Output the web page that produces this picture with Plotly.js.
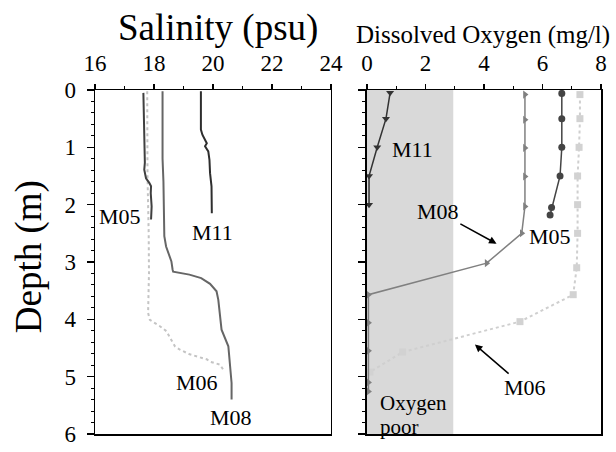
<!DOCTYPE html>
<html>
<head>
<meta charset="utf-8">
<script src="https://cdn.plot.ly/plotly-3.0.1.min.js"></script>
<style>
  html, body { margin: 0; padding: 0; background: #fff; }
  #chart { width: 616px; height: 452px; }
</style>
</head>
<body>
<div id="chart"></div>
<script>
// Salinity profiles (depth in m, salinity in psu)
const salM05Depth = [0.05, 0.69, 0.98, 1.27, 1.39, 1.54, 1.62, 1.68, 1.80, 2.03, 2.26];
const salM05 =      [17.64, 17.67, 17.69, 17.69, 17.67, 17.73, 17.84, 17.90, 17.89, 17.92, 17.90];

const salM11Depth = [0.02, 0.69, 0.78, 0.87, 0.93, 0.98, 1.07, 1.22, 1.45, 1.68, 2.15];
const salM11 =      [19.59, 19.59, 19.64, 19.73, 19.79, 19.73, 19.84, 19.88, 19.90, 19.95, 19.96];

const salM08Depth = [0.02, 1.20, 1.60, 2.13, 2.55, 2.73, 2.90, 2.99, 3.13, 3.17, 3.22, 3.28, 3.38, 3.51, 3.66, 4.01, 4.18, 4.47, 4.76, 5.11, 5.40];
const salM08 =      [18.29, 18.29, 18.32, 18.34, 18.35, 18.41, 18.54, 18.59, 18.63, 18.65, 19.20, 19.60, 19.90, 20.12, 20.18, 20.24, 20.29, 20.52, 20.58, 20.63, 20.63];

const salM06Depth = [0.02, 1.50, 2.50, 3.20, 3.89, 4.01, 4.12, 4.21, 4.30, 4.47, 4.53, 4.61, 4.70, 4.74, 4.79, 4.88];
const salM06 =      [17.77, 17.78, 17.82, 17.83, 17.80, 17.86, 18.20, 18.43, 18.52, 18.71, 18.88, 19.21, 19.80, 19.90, 20.24, 20.35];

// Dissolved oxygen profiles (depth in m, DO in mg/l)
const doM11Depth = [0.05, 0.50, 1.00, 1.50, 2.00];
const doM11 =      [0.79, 0.65, 0.35, 0.07, 0.07];

const doM08Depth = [0.08, 0.52, 1.01, 1.51, 2.03, 2.50, 3.02, 3.57, 4.06, 4.55, 5.10, 5.26];
const doM08 =      [5.40, 5.40, 5.40, 5.40, 5.40, 5.29, 4.09, 0.05, 0.05, 0.05, 0.05, 0.05];

const doM05Depth = [0.06, 0.50, 1.00, 1.50, 2.05, 2.18];
const doM05 =      [6.66, 6.66, 6.66, 6.60, 6.31, 6.26];

const doM06Depth = [0.08, 0.50, 1.00, 1.50, 2.00, 2.50, 3.10, 3.57, 4.04, 4.57, 4.92];
const doM06 =      [7.28, 7.28, 7.25, 7.20, 7.20, 7.20, 7.17, 7.05, 5.23, 1.22, 0.10];

// Oxygen-poor band upper limit (mg/l)
const oxygenPoorLimit = 2.95;

const serif = '"Liberation Serif", "Times New Roman", Times, serif';
const f = (size) => ({family: serif, size: size, color: '#000'});

const traces = [
  // salinity panel
  {x: salM06, y: salM06Depth, xaxis: 'x', yaxis: 'y', mode: 'lines',
   line: {color: '#c4c4c4', width: 2, dash: 'dot'}},
  {x: salM05, y: salM05Depth, xaxis: 'x', yaxis: 'y', mode: 'lines',
   line: {color: '#404040', width: 2}},
  {x: salM11, y: salM11Depth, xaxis: 'x', yaxis: 'y', mode: 'lines',
   line: {color: '#2e2e2e', width: 2}},
  {x: salM08, y: salM08Depth, xaxis: 'x', yaxis: 'y', mode: 'lines',
   line: {color: '#666666', width: 2}},
  // dissolved oxygen panel
  {x: doM06, y: doM06Depth, xaxis: 'x2', yaxis: 'y2', mode: 'lines+markers',
   line: {color: '#cfcfcf', width: 2, dash: 'dot'},
   marker: {symbol: 'square', size: 7, color: '#d2d2d2'}},
  {x: doM05, y: doM05Depth, xaxis: 'x2', yaxis: 'y2', mode: 'lines+markers',
   line: {color: '#444444', width: 1.5},
   marker: {symbol: 'circle', size: 7, color: '#444444'}},
  {x: doM08, y: doM08Depth, xaxis: 'x2', yaxis: 'y2', mode: 'lines+markers',
   line: {color: '#808080', width: 1.5},
   marker: {symbol: 'triangle-right', size: 7, color: '#808080'}},
  {x: doM11, y: doM11Depth, xaxis: 'x2', yaxis: 'y2', mode: 'lines+markers',
   line: {color: '#333333', width: 1.5},
   marker: {symbol: 'triangle-down', size: 7, color: '#333333'}}
];

const topAxis = {
  side: 'top', showline: true, linecolor: '#000', linewidth: 1.5, mirror: true,
  ticks: 'outside', ticklen: 5, tickwidth: 1.5, tickcolor: '#000',
  minor: {dtick: 1, ticks: 'outside', ticklen: 3, tickwidth: 1, tickcolor: '#000'},
  showgrid: false, zeroline: false,
  tickfont: f(23), ticklabelstandoff: 3
};
const insideTicks = {
  side: 'top', showline: false, showgrid: false, zeroline: false,
  ticks: 'inside', ticklen: 4, tickwidth: 1.5, tickcolor: '#000', showticklabels: false
};
const depthAxis = {
  range: [6, 0], dtick: 1, tick0: 0, showline: true, linecolor: '#000', linewidth: 1.5, mirror: true,
  ticks: 'outside', ticklen: 7, tickwidth: 1.5, tickcolor: '#000',
  minor: {dtick: 0.2, ticks: 'outside', ticklen: 3, tickwidth: 1, tickcolor: '#000'},
  showgrid: false, zeroline: false,
  tickfont: f(23)
};

const layout = {
  width: 616, height: 452,
  margin: {l: 95, r: 15, t: 90, b: 18},
  paper_bgcolor: '#fff', plot_bgcolor: '#fff',
  showlegend: false, hovermode: false,
  font: f(22),
  xaxis: Object.assign({}, topAxis, {domain: [0, 0.4664], range: [16, 24], dtick: 2, tick0: 16, anchor: 'y'}),
  xaxis2: Object.assign({}, topAxis, {domain: [0.5375, 1], range: [0, 8], dtick: 2, tick0: 0, anchor: 'y2'}),
  xaxis3: Object.assign({}, insideTicks, {overlaying: 'x', range: [16, 24], dtick: 2, tick0: 16, anchor: 'y'}),
  xaxis4: Object.assign({}, insideTicks, {overlaying: 'x2', range: [0, 8], dtick: 2, tick0: 0, anchor: 'y2'}),
  yaxis: Object.assign({}, depthAxis, {domain: [0, 1], anchor: 'x', ticklabelstandoff: 6}),
  yaxis2: Object.assign({}, depthAxis, {domain: [0, 1], anchor: 'x2', showticklabels: false}),
  shapes: [
    {type: 'rect', xref: 'x2', yref: 'y2', x0: 0, x1: oxygenPoorLimit, y0: 0, y1: 6,
     fillcolor: '#d9d9d9', line: {width: 0}, layer: 'below'}
  ],
  annotations: [
    {text: 'Salinity (psu)', xref: 'paper', yref: 'paper', x: 0.243, y: 1.18,
     showarrow: false, font: f(37), xanchor: 'center', yanchor: 'middle'},
    {text: 'Dissolved Oxygen (mg/l)', xref: 'paper', yref: 'paper', x: 0.767, y: 1.16,
     showarrow: false, font: f(25), xanchor: 'center', yanchor: 'middle'},
    {text: 'Depth (m)', xref: 'paper', yref: 'paper', x: -0.13, y: 0.5145, textangle: -90,
     showarrow: false, font: f(37), xanchor: 'center', yanchor: 'middle'},
    // salinity labels
    {text: 'M05', xref: 'x', yref: 'y', x: 16.85, y: 2.21, showarrow: false, font: f(22)},
    {text: 'M11', xref: 'x', yref: 'y', x: 19.97, y: 2.49, showarrow: false, font: f(22)},
    {text: 'M06', xref: 'x', yref: 'y', x: 19.46, y: 5.11, showarrow: false, font: f(22)},
    {text: 'M08', xref: 'x', yref: 'y', x: 20.61, y: 5.72, showarrow: false, font: f(22)},
    // oxygen labels
    {text: 'M11', xref: 'x2', yref: 'y2', x: 1.54, y: 1.04, showarrow: false, font: f(22)},
    {text: 'M05', xref: 'x2', yref: 'y2', x: 6.26, y: 2.56, showarrow: false, font: f(22)},
    {text: 'M08', xref: 'x2', yref: 'y2', x: 4.43, y: 2.68, showarrow: true,
     ax: -58.7, ay: -32, arrowhead: 2, arrowsize: 1, arrowwidth: 1.5, arrowcolor: '#000', font: f(22)},
    {text: 'M06', xref: 'x2', yref: 'y2', x: 3.69, y: 4.44, showarrow: true,
     ax: 50, ay: 43, arrowhead: 2, arrowsize: 1, arrowwidth: 1.5, arrowcolor: '#000', font: f(22)},
    {text: 'Oxygen', xref: 'x2', yref: 'y2', x: 0.38, y: 5.46, xanchor: 'left', yanchor: 'middle',
     showarrow: false, font: f(21)},
    {text: 'poor', xref: 'x2', yref: 'y2', x: 0.38, y: 5.88, xanchor: 'left', yanchor: 'middle',
     showarrow: false, font: f(21)}
  ]
};

Plotly.newPlot('chart', traces, layout, {staticPlot: true, displayModeBar: false});
</script>
</body>
</html>
